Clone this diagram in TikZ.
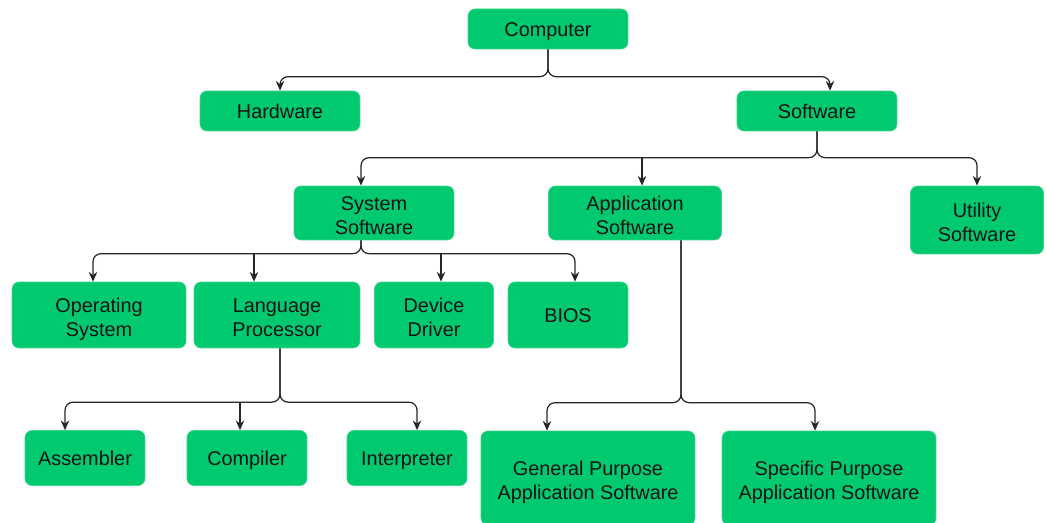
\documentclass[tikz,border=0pt]{standalone}
\usepackage{fontspec}
\setmainfont{Liberation Sans}
\usetikzlibrary{calc,arrows.meta}
\definecolor{boxgreen}{RGB}{0,201,112}
\definecolor{boxedge}{RGB}{60,215,140}
\definecolor{txt}{RGB}{20,20,20}
\tikzset{
  box/.style={draw=boxedge, line width=0.4pt, fill=boxgreen, rounded corners=0.14cm,
    inner sep=0pt, align=center, text=txt,
    font=\fontsize{11.3}{14.2}\selectfont},
  oneline/.style={box, text height=8.1pt, text depth=0pt},
  twoline/.style={box, text height=25pt, text depth=0pt},
  conn/.style={draw=black!85, line width=0.7pt, rounded corners=0.16cm,
    -{Stealth[length=5.5pt,width=4.8pt]}}
}
\begin{document}
\begin{tikzpicture}[x=0.02cm,y=-0.02cm]
\useasboundingbox (0,0) rectangle (1047,523);
\clip (0,0) rectangle (1047,523);
\fill[white] (0,0) rectangle (1047,523);
% nodes
\node[oneline, minimum width=3.2cm, minimum height=0.8cm] (comp) at (548,29) {Computer};
\node[oneline, minimum width=3.2cm, minimum height=0.8cm] (hw) at (280,111) {Hardware};
\node[oneline, minimum width=3.2cm, minimum height=0.8cm] (sw) at (817,111) {Software};
\node[twoline, minimum width=3.2cm, minimum height=1.08cm] (sys) at (374,213) {System\\Software};
\node[twoline, minimum width=3.46cm, minimum height=1.08cm] (app) at (635,213) {Application\\Software};
\node[twoline, minimum width=2.66cm, minimum height=1.36cm] (util) at (977,220) {Utility\\Software};
\node[twoline, minimum width=3.48cm, minimum height=1.32cm] (os) at (99,315) {Operating\\System};
\node[twoline, minimum width=3.32cm, minimum height=1.32cm] (lp) at (277,315) {Language\\Processor};
\node[twoline, minimum width=2.38cm, minimum height=1.32cm] (dd) at (434,315) {Device\\Driver};
\node[oneline, minimum width=2.4cm, minimum height=1.32cm] (bios) at (568,315) {BIOS};
\node[oneline, minimum width=2.4cm, minimum height=1.1cm] (asm) at (85,458) {Assembler};
\node[oneline, minimum width=2.4cm, minimum height=1.1cm] (cmp) at (247,458) {Compiler};
\node[oneline, minimum width=2.4cm, minimum height=1.1cm] (intp) at (407,458) {Interpreter};
\node[twoline, minimum width=4.28cm, minimum height=1.88cm] (gen) at (588,478) {General Purpose\\Application Software};
\node[twoline, minimum width=4.28cm, minimum height=1.88cm] (spec) at (829,478) {Specific Purpose\\Application Software};
% branch points for straight drops
\coordinate (swapp) at ($(app.north)+(7,-28)$);
\coordinate (syslp) at ($(lp.north)+(-23,-28)$);
\coordinate (sysdd) at ($(dd.north)+(7,-28)$);
\coordinate (lpcmp) at ($(cmp.north)+(-7,-28)$);
% connectors: Computer
\draw[conn] (comp.south) |- ($(hw.north)+(0,-14)$) -- (hw.north);
\draw[conn] (comp.south) |- ($(sw.north)+(13,-14)$) -- ($(sw.north)+(13,0)$);
% Software
\draw[conn] (sw.south) |- ($(sys.north)+(-13,-28)$) -- ($(sys.north)+(-13,0)$);
\draw[conn] (sw.south) |- ($(util.north)+(0,-28)$) -- (util.north);
\draw[conn] (swapp) -- ($(app.north)+(7,0)$);
% System Software
\draw[conn] ($(sys.south)+(-13,0)$) |- ($(os.north)+(-6,-28)$) -- ($(os.north)+(-6,0)$);
\draw[conn] ($(sys.south)+(-13,0)$) |- ($(bios.north)+(7,-28)$) -- ($(bios.north)+(7,0)$);
\draw[conn] (syslp) -- ($(lp.north)+(-23,0)$);
\draw[conn] (sysdd) -- ($(dd.north)+(7,0)$);
% Language Processor
\draw[conn] ($(lp.south)+(3,0)$) |- ($(asm.north)+(-20,-28)$) -- ($(asm.north)+(-20,0)$);
\draw[conn] ($(lp.south)+(3,0)$) |- ($(intp.north)+(10,-28)$) -- ($(intp.north)+(10,0)$);
\draw[conn] (lpcmp) -- ($(cmp.north)+(-7,0)$);
% Application Software
\draw[conn] ($(app.south)+(46,0)$) |- ($(gen.north)+(-41,-28)$) -- ($(gen.north)+(-41,0)$);
\draw[conn] ($(app.south)+(46,0)$) |- ($(spec.north)+(-14,-28)$) -- ($(spec.north)+(-14,0)$);
\end{tikzpicture}
\end{document}
